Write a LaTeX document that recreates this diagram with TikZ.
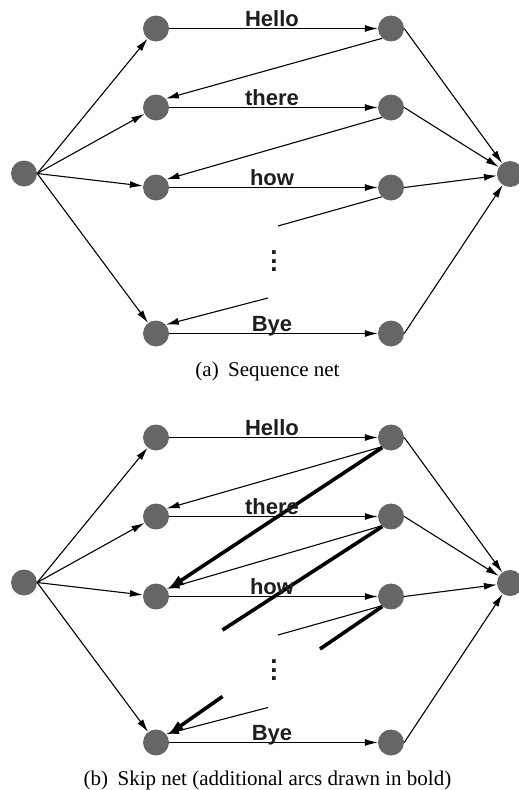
\documentclass[tikz,border=0pt]{standalone}
\usepackage{fontspec}
\setmainfont{Liberation Serif}
\newfontfamily\lblfont{Liberation Sans}
\usetikzlibrary{arrows.meta}
\definecolor{nodegray}{RGB}{102,102,102}
\definecolor{lblcol}{RGB}{30,30,30}
\newcommand{\stackdots}{\vbox{\baselineskip=8.5pt\lineskiplimit=-20pt\lineskip=0pt\hbox{.}\hbox{.}\hbox{.}}}
\begin{document}
\begin{tikzpicture}[x=1pt,y=-1pt,
  netnode/.style={circle,fill=nodegray,minimum size=26pt,inner sep=0pt},
  fwdarc/.style={line width=1.1pt,-{Latex[length=13pt,width=7pt]}},
  plainarc/.style={line width=1.1pt},
  boldarc/.style={line width=3.6pt,-{Latex[length=17pt,width=11pt]}},
  boldplain/.style={line width=3.6pt},
  wordlbl/.style={font=\lblfont\bfseries\fontsize{22}{22}\selectfont,text=lblcol,anchor=base,inner sep=0pt},
  dotlbl/.style={font=\lblfont\bfseries\fontsize{26}{26}\selectfont,text=lblcol,inner sep=0pt},
  caplbl/.style={font=\fontsize{21}{21}\selectfont,anchor=base,inner sep=0pt},
]
\useasboundingbox (0,0) rectangle (519,790);

% ---------- (a) Sequence net ----------
\node[netnode] (as) at (24,173.5) {};
\node[netnode] (ae) at (510,174) {};
\node[netnode] (al1) at (156,28.5) {};
\node[netnode] (al2) at (156,107.5) {};
\node[netnode] (al3) at (156,187.5) {};
\node[netnode] (al4) at (156,333.5) {};
\node[netnode] (ar1) at (391,28.5) {};
\node[netnode] (ar2) at (391,107.5) {};
\node[netnode] (ar3) at (391,187.5) {};
\node[netnode] (ar4) at (391,333.5) {};
\coordinate (afree1) at (278,226);
\coordinate (afree2) at (268,298);

\foreach \i in {1,2,3,4} {
  \draw[fwdarc] (as.east) -- (al\i);
  \draw[fwdarc] (al\i.east) -- (ar\i.west);
  \draw[fwdarc] (ar\i.east) -- (ae);
}
\draw[fwdarc] (ar1.228) -- (al2.42);
\draw[fwdarc] (ar2.228) -- (al3.38);
\draw[plainarc] (ar3.225) -- (afree1);
\draw[fwdarc] (afree2) -- (al4.42);

\node[wordlbl] (aw1) at (272,26) {Hello};
\node[wordlbl] (aw2) at (272,105) {there};
\node[wordlbl] (aw3) at (272,185) {how};
\node[wordlbl] (aw4) at (272,331) {Bye};
\node[dotlbl] (adots) at (274,261.5) {\stackdots};
\node[caplbl] (capa) at (267.5,376) {(a)\hspace{0.45em}Sequence net};

% ---------- (b) Skip net ----------
\node[netnode] (bs) at (24,582.5) {};
\node[netnode] (be) at (510,583) {};
\node[netnode] (bl1) at (156,437.5) {};
\node[netnode] (bl2) at (156,516.5) {};
\node[netnode] (bl3) at (156,596.5) {};
\node[netnode] (bl4) at (156,742.5) {};
\node[netnode] (br1) at (391,437.5) {};
\node[netnode] (br2) at (391,516.5) {};
\node[netnode] (br3) at (391,596.5) {};
\node[netnode] (br4) at (391,742.5) {};
\coordinate (bfree1) at (278,635);
\coordinate (bfree2) at (268,707.5);
\coordinate (bbold1) at (222.5,630);
\coordinate (bbold2) at (320,649);
\coordinate (bbold3) at (222.5,696.5);

\foreach \i in {1,2,3,4} {
  \draw[fwdarc] (bs.east) -- (bl\i);
  \draw[fwdarc] (bl\i.east) -- (br\i.west);
  \draw[fwdarc] (br\i.east) -- (be);
}
\draw[fwdarc] (br1.225) -- (bl2.37);
\draw[fwdarc] (br2.225) -- (bl3.36);
\draw[plainarc] (br3.225) -- (bfree1);
\draw[fwdarc] (bfree2) -- (bl4.40);

\draw[boldarc] (br1.229) -- (bl3.32);
\draw[boldplain] (br2.229) -- (bbold1);
\draw[boldplain] (br3.229) -- (bbold2);
\draw[boldarc] (bbold3) -- (bl4.33);

\node[wordlbl] (bw1) at (272,435) {Hello};
\node[wordlbl] (bw2) at (272,514) {there};
\node[wordlbl] (bw3) at (272,594.5) {how};
\node[wordlbl] (bw4) at (272,740) {Bye};
\node[dotlbl] (bdots) at (274,670.5) {\stackdots};
\node[caplbl] (capb) at (267.5,785) {(b)\hspace{0.45em}Skip net (additional arcs drawn in bold)};
\end{tikzpicture}
\end{document}
